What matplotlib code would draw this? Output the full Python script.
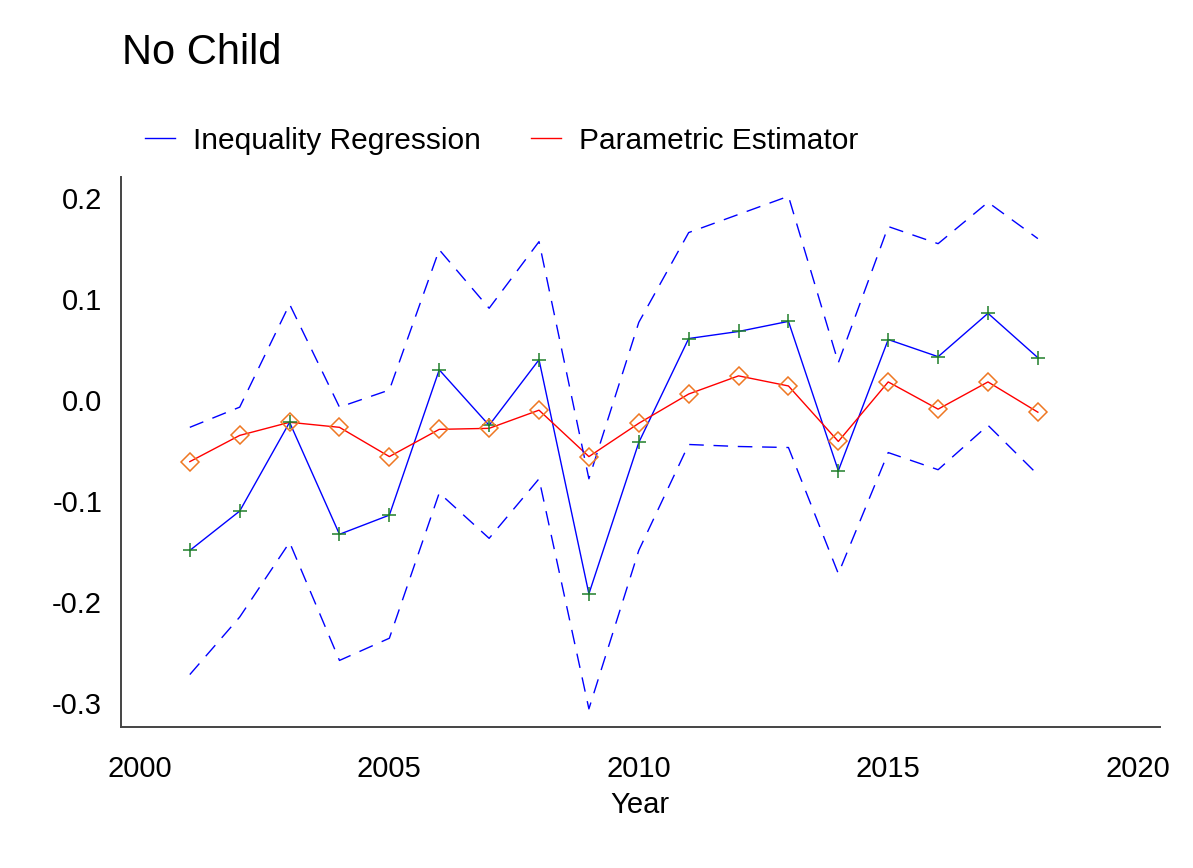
import numpy as np
import matplotlib.pyplot as plt

plt.rcParams['font.family'] = ['Liberation Sans', 'DejaVu Sans']

years = np.arange(2001, 2019)

# Inequality Regression point estimate and CI bounds
ineq = [-0.149, -0.110, -0.022, -0.133, -0.114, 0.030, -0.025, 0.040, -0.192,
        -0.042, 0.061, 0.068, 0.078, -0.070, 0.060, 0.043, 0.086, 0.042]
ineq_hi = [-0.027, -0.007, 0.095, -0.007, 0.010, 0.149, 0.091, 0.157, -0.078,
           0.077, 0.166, 0.184, 0.202, 0.037, 0.172, 0.155, 0.196, 0.160]
ineq_lo = [-0.272, -0.215, -0.141, -0.258, -0.236, -0.092, -0.137, -0.078, -0.306,
           -0.149, -0.044, -0.046, -0.047, -0.172, -0.052, -0.069, -0.025, -0.074]

# Parametric Estimator
param = [-0.061, -0.035, -0.022, -0.027, -0.056, -0.029, -0.028, -0.010, -0.056,
         -0.023, 0.006, 0.024, 0.014, -0.041, 0.018, -0.009, 0.018, -0.012]

fig = plt.figure(figsize=(11.93, 8.68), dpi=100)
ax = fig.add_axes([0.1014, 0.1624, 0.8706, 0.6336])

ax.plot(years, ineq, color='blue', lw=1.0, label='Inequality Regression')
ax.plot(years, param, color='red', lw=1.0, label='Parametric Estimator')
ax.plot(years, ineq_hi, color='blue', lw=1.0, dashes=(10.5, 7))
ax.plot(years, ineq_lo, color='blue', lw=1.0, dashes=(10.5, 7))
ax.plot(years, ineq, ls='none', marker='+', ms=9.5, mew=1.1, color='#1f7f2a')
ax.plot(years, param, ls='none', marker='D', ms=9.2, mew=1.1, mfc='none', mec='#ee7722')

ax.set_xlim(1999.62, 2020.44)
ax.set_ylim(-0.324, 0.221)
ax.set_xticks([2000, 2005, 2010, 2015, 2020])
ax.set_yticks([0.2, 0.1, 0.0, -0.1, -0.2, -0.3])
ax.set_yticklabels(['0.2', '0.1', '0.0', '-0.1', '-0.2', '-0.3'])
ax.tick_params(axis='both', length=0, labelsize=21)
ax.tick_params(axis='x', pad=20)
ax.tick_params(axis='y', pad=13.5)
for s in ['top', 'right']:
    ax.spines[s].set_visible(False)
for s in ['left', 'bottom']:
    ax.spines[s].set_color('#444444')
    ax.spines[s].set_linewidth(1.4)

ax.set_xlabel('Year', fontsize=21, labelpad=6)

fig.text(0.102, 0.926, 'No Child', fontsize=30, ha='left', va='baseline')

leg = ax.legend(loc='center left', bbox_to_anchor=(-0.003, 1.066), ncol=2, frameon=False,
                fontsize=21.5, handlelength=1.0, columnspacing=1.7, handletextpad=0.6)

fig.savefig('out.png', dpi=100)
